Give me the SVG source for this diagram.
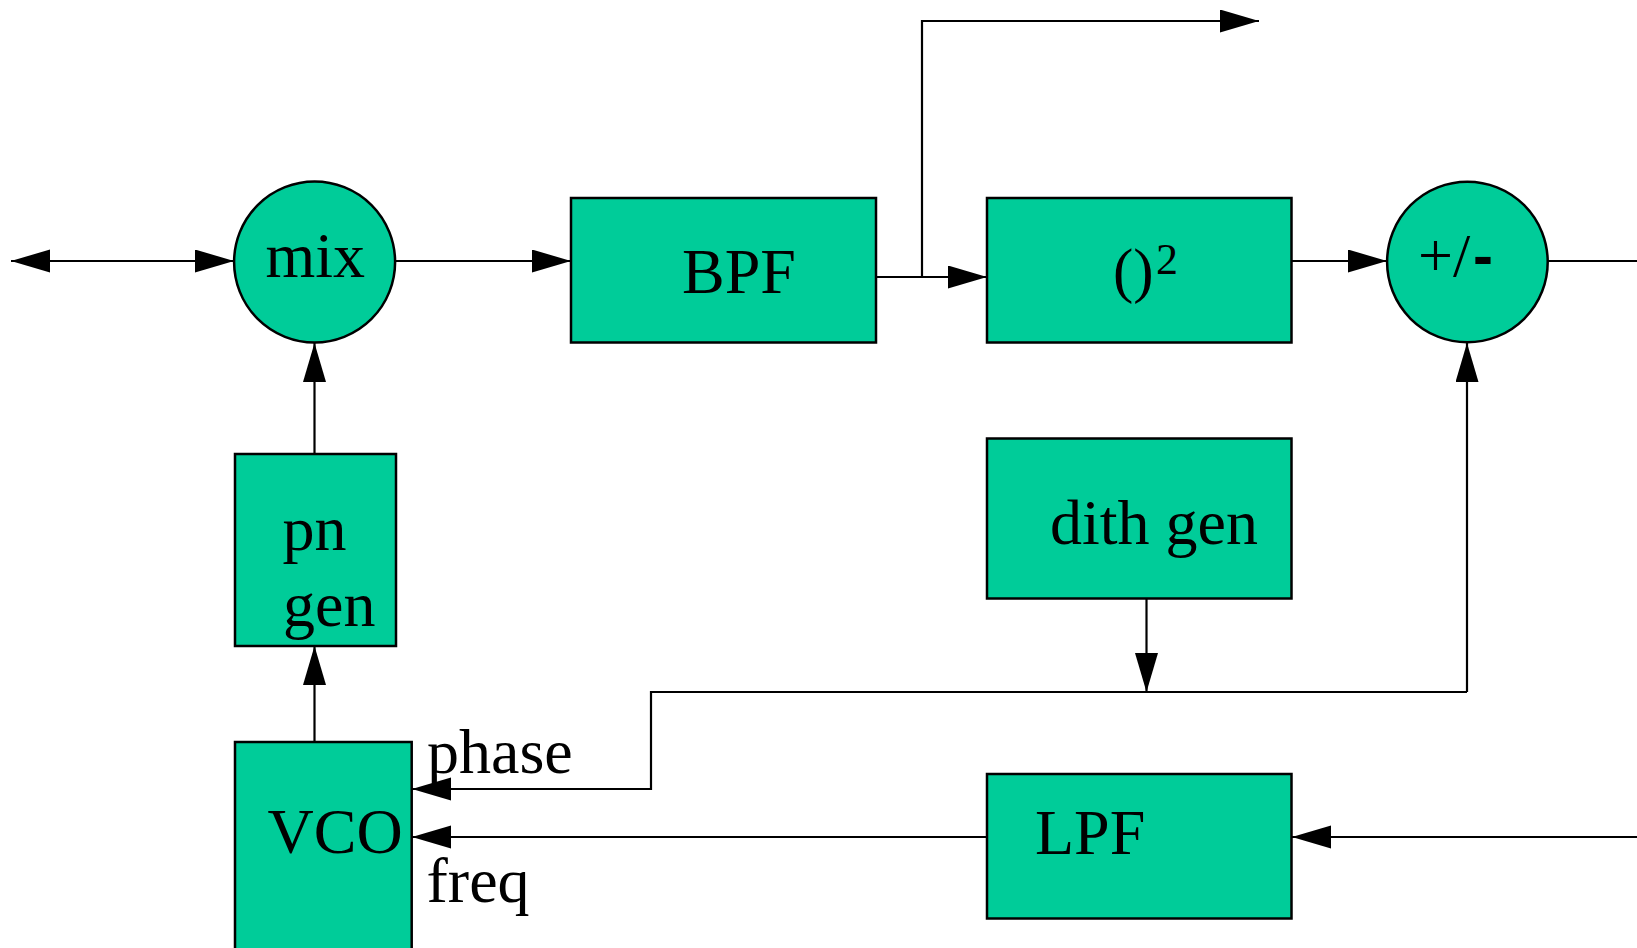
<svg xmlns="http://www.w3.org/2000/svg" width="1637" height="948" viewBox="0 0 1637 948">
<style>
.box{fill:#00CC99;stroke:#000;stroke-width:2.5}
.ln{fill:none;stroke:#000;stroke-width:2.2}
.arr{marker-end:url(#ah)}
.t{font-family:"Liberation Serif","Times New Roman",serif;font-size:64px;fill:#000}
</style>
<defs>
<marker id="ah" markerUnits="userSpaceOnUse" markerWidth="40" markerHeight="24" refX="39" refY="11.5" orient="auto-start-reverse" viewBox="0 0 40 24">
<path d="M0,0 L39,11.5 L0,23 z" fill="#000"/>
</marker>
</defs>
<rect width="1637" height="948" fill="#fff"/>
<g id="connectors">
<line class="ln" x1="11" y1="261" x2="234" y2="261" marker-start="url(#ah)" marker-end="url(#ah)"/>
<line class="ln arr" x1="395" y1="261" x2="571" y2="261"/>
<line class="ln arr" x1="876" y1="277" x2="987" y2="277"/>
<polyline class="ln arr" points="922,277 922,21 1259,21"/>
<line class="ln arr" x1="1291" y1="261" x2="1387" y2="261"/>
<line class="ln" x1="1548" y1="261" x2="1637" y2="261"/>
<line class="ln arr" x1="314.5" y1="454" x2="314.5" y2="343"/>
<line class="ln arr" x1="314.5" y1="742" x2="314.5" y2="646"/>
<line class="ln arr" x1="1146.5" y1="598" x2="1146.5" y2="692"/>
<line class="ln arr" x1="1467" y1="692" x2="1467" y2="343"/>
<polyline class="ln arr" points="1467,692 651,692 651,789 412,789"/>
<line class="ln arr" x1="1637" y1="837" x2="1292" y2="837"/>
<line class="ln arr" x1="987" y1="837" x2="412" y2="837"/>
</g>
<g id="mix">
<circle class="box" cx="314.6" cy="262" r="80.5"/>
<text class="t" x="265.5" y="277">mix</text>
</g>
<g id="bpf">
<rect class="box" x="571" y="198" width="305" height="144.5"/>
<text class="t" x="682" y="293">BPF</text>
</g>
<g id="square">
<rect class="box" x="987" y="198" width="304.5" height="144.5"/>
<text class="t" x="1113" y="291" style="font-size:61px">()</text>
<text class="t" x="1156" y="274" style="font-size:44px">2</text>
</g>
<g id="addsub">
<circle class="box" cx="1467.4" cy="262" r="80.3"/>
<text class="t" x="1418" y="276" style="font-size:62px">+/</text>
<text x="1473" y="276" style="font-family:'Liberation Sans',Arial,sans-serif;font-weight:bold;font-size:60px">-</text>
</g>
<g id="pngen">
<rect class="box" x="235" y="454" width="161" height="192"/>
<text class="t" x="282.5" y="550">pn</text>
<text class="t" x="283" y="626">gen</text>
</g>
<g id="dithgen">
<rect class="box" x="987" y="438.5" width="304.5" height="160"/>
<text class="t" x="1050" y="544">dith gen</text>
</g>
<g id="vco">
<rect class="box" x="235" y="742" width="176.7" height="230"/>
<text class="t" x="267.5" y="853">VCO</text>
</g>
<g id="lpf">
<rect class="box" x="987" y="774" width="304.5" height="144.5"/>
<text class="t" x="1035" y="854">LPF</text>
</g>
<g id="labels">
<text class="t" x="427" y="773">phase</text>
<text class="t" x="426.5" y="902">freq</text>
</g>
</svg>
